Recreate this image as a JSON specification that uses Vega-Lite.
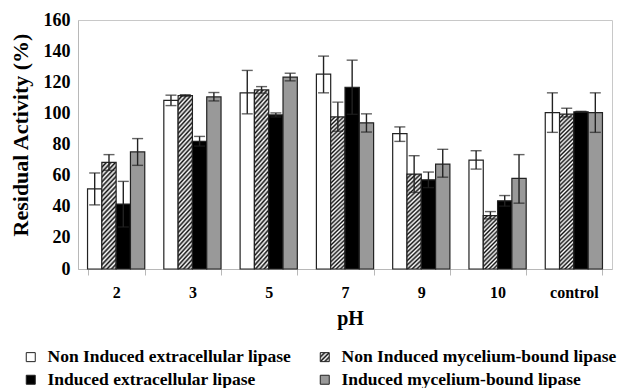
{
  "$schema": "https://vega.github.io/schema/vega-lite/v6.json",
  "width": 534,
  "height": 249,
  "autosize": {"type": "none"},
  "padding": {"left": 78, "top": 20, "right": 6, "bottom": 119},
  "background": "white",
  "config": {
    "view": {"stroke": "#c8c8c8", "strokeWidth": 1},
    "font": "Liberation Serif",
    "axis": {"labelFont": "Liberation Serif", "titleFont": "Liberation Serif", "labelFontWeight": "bold", "titleFontWeight": "bold", "labelColor": "#000000", "titleColor": "#000000", "grid": false},
    "axisY": {"labelOverlap": false},
    "legend": {"symbolStrokeColor": "#222222", "symbolStrokeWidth": 1, "symbolOpacity": 1}
  },
  "data": {
    "values": [
      {"ph": "2", "series": "Non Induced extracellular lipase", "value": 51.5, "lo": 41.2, "hi": 61.7},
      {"ph": "2", "series": "Non Induced mycelium-bound lipase", "value": 68.5, "lo": 63.4, "hi": 73.5},
      {"ph": "2", "series": "Induced extracellular lipase", "value": 41.7, "lo": 27, "hi": 56.3},
      {"ph": "2", "series": "Induced mycelium-bound lipase", "value": 75.2, "lo": 66.6, "hi": 83.8},
      {"ph": "3", "series": "Non Induced extracellular lipase", "value": 108.4, "lo": 105, "hi": 111.7},
      {"ph": "3", "series": "Non Induced mycelium-bound lipase", "value": 111.5, "lo": 111, "hi": 112},
      {"ph": "3", "series": "Induced extracellular lipase", "value": 82, "lo": 79, "hi": 85.2},
      {"ph": "3", "series": "Induced mycelium-bound lipase", "value": 110.6, "lo": 108, "hi": 113.4},
      {"ph": "5", "series": "Non Induced extracellular lipase", "value": 113.2, "lo": 99.7, "hi": 127.6},
      {"ph": "5", "series": "Non Induced mycelium-bound lipase", "value": 115.1, "lo": 113, "hi": 117.2},
      {"ph": "5", "series": "Induced extracellular lipase", "value": 99, "lo": 97.7, "hi": 100.3},
      {"ph": "5", "series": "Induced mycelium-bound lipase", "value": 123.3, "lo": 120.9, "hi": 125.8},
      {"ph": "7", "series": "Non Induced extracellular lipase", "value": 125.2, "lo": 113.2, "hi": 136.8},
      {"ph": "7", "series": "Non Induced mycelium-bound lipase", "value": 97.7, "lo": 88.5, "hi": 107.2},
      {"ph": "7", "series": "Induced extracellular lipase", "value": 116.8, "lo": 99.4, "hi": 134.2},
      {"ph": "7", "series": "Induced mycelium-bound lipase", "value": 93.9, "lo": 88, "hi": 99.7},
      {"ph": "9", "series": "Non Induced extracellular lipase", "value": 87, "lo": 82, "hi": 91.3},
      {"ph": "9", "series": "Non Induced mycelium-bound lipase", "value": 61, "lo": 49.2, "hi": 72.8},
      {"ph": "9", "series": "Induced extracellular lipase", "value": 57.3, "lo": 52.3, "hi": 62.3},
      {"ph": "9", "series": "Induced mycelium-bound lipase", "value": 67.4, "lo": 59, "hi": 76.9},
      {"ph": "10", "series": "Non Induced extracellular lipase", "value": 70, "lo": 64.2, "hi": 76},
      {"ph": "10", "series": "Non Induced mycelium-bound lipase", "value": 34.3, "lo": 32.2, "hi": 36.9},
      {"ph": "10", "series": "Induced extracellular lipase", "value": 43.8, "lo": 40.4, "hi": 47.2},
      {"ph": "10", "series": "Induced mycelium-bound lipase", "value": 58.2, "lo": 42.3, "hi": 73.5},
      {"ph": "control", "series": "Non Induced extracellular lipase", "value": 100.5, "lo": 87.8, "hi": 113.2},
      {"ph": "control", "series": "Non Induced mycelium-bound lipase", "value": 99.5, "lo": 97.7, "hi": 103.3},
      {"ph": "control", "series": "Induced extracellular lipase", "value": 101, "lo": 100.7, "hi": 101.3},
      {"ph": "control", "series": "Induced mycelium-bound lipase", "value": 100.5, "lo": 87.8, "hi": 113.2}
    ]
  },
  "encoding": {
    "x": {
      "field": "ph", "type": "nominal",
      "sort": ["2", "3", "5", "7", "9", "10", "control"],
      "scale": {"paddingInner": 0.25, "paddingOuter": 0.125},
      "axis": {
        "title": "pH", "labelAngle": 0, "labelFont": "Liberation Serif", "labelFontWeight": "bold", "labelFontSize": 16, "labelPadding": 9, "labelOverlap": false,
        "domainColor": "#b8b8b8", "tickColor": "#b8b8b8", "tickSize": 6, "tickBand": "extent",
        "titleFont": "Liberation Serif", "titleFontSize": 20, "titleX": 272, "titleY": 49, "titleAlign": "center", "titleBaseline": "middle"
      }
    },
    "xOffset": {
      "field": "series", "type": "nominal",
      "sort": ["Non Induced extracellular lipase", "Non Induced mycelium-bound lipase", "Induced extracellular lipase", "Induced mycelium-bound lipase"],
      "scale": {"paddingInner": 0, "paddingOuter": 0}
    }
  },
  "layer": [
    {
      "mark": {"type": "bar", "stroke": "#222222", "strokeWidth": 1.2},
      "encoding": {
        "y": {
          "field": "value", "type": "quantitative",
          "scale": {"domain": [0, 160], "nice": false},
          "axis": {
            "values": [0, 20, 40, 60, 80, 100, 120, 140, 160], "ticks": false, "labelOverlap": false,
            "domainColor": "#b8b8b8", "labelFont": "Liberation Serif", "labelFontWeight": "bold", "labelFontSize": 18, "labelPadding": 8,
            "title": "Residual Activity (%)", "titleFont": "Liberation Serif", "titleFontSize": 22, "titleAngle": -90,
            "titleX": -58, "titleY": 114.5, "titleAlign": "center", "titleBaseline": "middle"
          }
        },
        "fill": {
          "condition": [
            {"test": "datum.series === 'Non Induced mycelium-bound lipase' && datum.value < 50",
             "value": {"gradient": "linear", "x1": 0, "y1": 0, "x2": 0.32, "y2": 1.184, "stops": [
              {"offset": 0, "color": "#111111"}, {"offset": 0.03125, "color": "#ffffff"},
              {"offset": 0.0625, "color": "#111111"}, {"offset": 0.09375, "color": "#ffffff"},
              {"offset": 0.125, "color": "#111111"}, {"offset": 0.15625, "color": "#ffffff"},
              {"offset": 0.1875, "color": "#111111"}, {"offset": 0.21875, "color": "#ffffff"},
              {"offset": 0.25, "color": "#111111"}, {"offset": 0.28125, "color": "#ffffff"},
              {"offset": 0.3125, "color": "#111111"}, {"offset": 0.34375, "color": "#ffffff"},
              {"offset": 0.375, "color": "#111111"}, {"offset": 0.40625, "color": "#ffffff"},
              {"offset": 0.4375, "color": "#111111"}, {"offset": 0.46875, "color": "#ffffff"},
              {"offset": 0.5, "color": "#111111"}, {"offset": 0.53125, "color": "#ffffff"},
              {"offset": 0.5625, "color": "#111111"}, {"offset": 0.59375, "color": "#ffffff"},
              {"offset": 0.625, "color": "#111111"}, {"offset": 0.65625, "color": "#ffffff"},
              {"offset": 0.6875, "color": "#111111"}, {"offset": 0.71875, "color": "#ffffff"},
              {"offset": 0.75, "color": "#111111"}, {"offset": 0.78125, "color": "#ffffff"},
              {"offset": 0.8125, "color": "#111111"}, {"offset": 0.84375, "color": "#ffffff"},
              {"offset": 0.875, "color": "#111111"}, {"offset": 0.90625, "color": "#ffffff"},
              {"offset": 0.9375, "color": "#111111"}, {"offset": 0.96875, "color": "#ffffff"},
              {"offset": 1, "color": "#111111"}]}},
            {"test": "datum.series === 'Non Induced mycelium-bound lipase' && datum.value < 90",
             "value": {"gradient": "linear", "x1": 0, "y1": 0, "x2": 0.16, "y2": 1.12, "stops": [
              {"offset": 0, "color": "#111111"}, {"offset": 0.02, "color": "#ffffff"},
              {"offset": 0.04, "color": "#111111"}, {"offset": 0.06, "color": "#ffffff"},
              {"offset": 0.08, "color": "#111111"}, {"offset": 0.1, "color": "#ffffff"},
              {"offset": 0.12, "color": "#111111"}, {"offset": 0.14, "color": "#ffffff"},
              {"offset": 0.16, "color": "#111111"}, {"offset": 0.18, "color": "#ffffff"},
              {"offset": 0.2, "color": "#111111"}, {"offset": 0.22, "color": "#ffffff"},
              {"offset": 0.24, "color": "#111111"}, {"offset": 0.26, "color": "#ffffff"},
              {"offset": 0.28, "color": "#111111"}, {"offset": 0.3, "color": "#ffffff"},
              {"offset": 0.32, "color": "#111111"}, {"offset": 0.34, "color": "#ffffff"},
              {"offset": 0.36, "color": "#111111"}, {"offset": 0.38, "color": "#ffffff"},
              {"offset": 0.4, "color": "#111111"}, {"offset": 0.42, "color": "#ffffff"},
              {"offset": 0.44, "color": "#111111"}, {"offset": 0.46, "color": "#ffffff"},
              {"offset": 0.48, "color": "#111111"}, {"offset": 0.5, "color": "#ffffff"},
              {"offset": 0.52, "color": "#111111"}, {"offset": 0.54, "color": "#ffffff"},
              {"offset": 0.56, "color": "#111111"}, {"offset": 0.58, "color": "#ffffff"},
              {"offset": 0.6, "color": "#111111"}, {"offset": 0.62, "color": "#ffffff"},
              {"offset": 0.64, "color": "#111111"}, {"offset": 0.66, "color": "#ffffff"},
              {"offset": 0.68, "color": "#111111"}, {"offset": 0.7, "color": "#ffffff"},
              {"offset": 0.72, "color": "#111111"}, {"offset": 0.74, "color": "#ffffff"},
              {"offset": 0.76, "color": "#111111"}, {"offset": 0.78, "color": "#ffffff"},
              {"offset": 0.8, "color": "#111111"}, {"offset": 0.82, "color": "#ffffff"},
              {"offset": 0.84, "color": "#111111"}, {"offset": 0.86, "color": "#ffffff"},
              {"offset": 0.88, "color": "#111111"}, {"offset": 0.9, "color": "#ffffff"},
              {"offset": 0.92, "color": "#111111"}, {"offset": 0.94, "color": "#ffffff"},
              {"offset": 0.96, "color": "#111111"}, {"offset": 0.98, "color": "#ffffff"},
              {"offset": 1, "color": "#111111"}]}},
            {"test": "datum.series === 'Non Induced mycelium-bound lipase'",
             "value": {"gradient": "linear", "x1": 0, "y1": 0, "x2": 0.098, "y2": 1.08, "stops": [
              {"offset": 0, "color": "#111111"}, {"offset": 0.0125, "color": "#ffffff"},
              {"offset": 0.025, "color": "#111111"}, {"offset": 0.0375, "color": "#ffffff"},
              {"offset": 0.05, "color": "#111111"}, {"offset": 0.0625, "color": "#ffffff"},
              {"offset": 0.075, "color": "#111111"}, {"offset": 0.0875, "color": "#ffffff"},
              {"offset": 0.1, "color": "#111111"}, {"offset": 0.1125, "color": "#ffffff"},
              {"offset": 0.125, "color": "#111111"}, {"offset": 0.1375, "color": "#ffffff"},
              {"offset": 0.15, "color": "#111111"}, {"offset": 0.1625, "color": "#ffffff"},
              {"offset": 0.175, "color": "#111111"}, {"offset": 0.1875, "color": "#ffffff"},
              {"offset": 0.2, "color": "#111111"}, {"offset": 0.2125, "color": "#ffffff"},
              {"offset": 0.225, "color": "#111111"}, {"offset": 0.2375, "color": "#ffffff"},
              {"offset": 0.25, "color": "#111111"}, {"offset": 0.2625, "color": "#ffffff"},
              {"offset": 0.275, "color": "#111111"}, {"offset": 0.2875, "color": "#ffffff"},
              {"offset": 0.3, "color": "#111111"}, {"offset": 0.3125, "color": "#ffffff"},
              {"offset": 0.325, "color": "#111111"}, {"offset": 0.3375, "color": "#ffffff"},
              {"offset": 0.35, "color": "#111111"}, {"offset": 0.3625, "color": "#ffffff"},
              {"offset": 0.375, "color": "#111111"}, {"offset": 0.3875, "color": "#ffffff"},
              {"offset": 0.4, "color": "#111111"}, {"offset": 0.4125, "color": "#ffffff"},
              {"offset": 0.425, "color": "#111111"}, {"offset": 0.4375, "color": "#ffffff"},
              {"offset": 0.45, "color": "#111111"}, {"offset": 0.4625, "color": "#ffffff"},
              {"offset": 0.475, "color": "#111111"}, {"offset": 0.4875, "color": "#ffffff"},
              {"offset": 0.5, "color": "#111111"}, {"offset": 0.5125, "color": "#ffffff"},
              {"offset": 0.525, "color": "#111111"}, {"offset": 0.5375, "color": "#ffffff"},
              {"offset": 0.55, "color": "#111111"}, {"offset": 0.5625, "color": "#ffffff"},
              {"offset": 0.575, "color": "#111111"}, {"offset": 0.5875, "color": "#ffffff"},
              {"offset": 0.6, "color": "#111111"}, {"offset": 0.6125, "color": "#ffffff"},
              {"offset": 0.625, "color": "#111111"}, {"offset": 0.6375, "color": "#ffffff"},
              {"offset": 0.65, "color": "#111111"}, {"offset": 0.6625, "color": "#ffffff"},
              {"offset": 0.675, "color": "#111111"}, {"offset": 0.6875, "color": "#ffffff"},
              {"offset": 0.7, "color": "#111111"}, {"offset": 0.7125, "color": "#ffffff"},
              {"offset": 0.725, "color": "#111111"}, {"offset": 0.7375, "color": "#ffffff"},
              {"offset": 0.75, "color": "#111111"}, {"offset": 0.7625, "color": "#ffffff"},
              {"offset": 0.775, "color": "#111111"}, {"offset": 0.7875, "color": "#ffffff"},
              {"offset": 0.8, "color": "#111111"}, {"offset": 0.8125, "color": "#ffffff"},
              {"offset": 0.825, "color": "#111111"}, {"offset": 0.8375, "color": "#ffffff"},
              {"offset": 0.85, "color": "#111111"}, {"offset": 0.8625, "color": "#ffffff"},
              {"offset": 0.875, "color": "#111111"}, {"offset": 0.8875, "color": "#ffffff"},
              {"offset": 0.9, "color": "#111111"}, {"offset": 0.9125, "color": "#ffffff"},
              {"offset": 0.925, "color": "#111111"}, {"offset": 0.9375, "color": "#ffffff"},
              {"offset": 0.95, "color": "#111111"}, {"offset": 0.9625, "color": "#ffffff"},
              {"offset": 0.975, "color": "#111111"}, {"offset": 0.9875, "color": "#ffffff"},
              {"offset": 1, "color": "#111111"}]}}
          ],
          "field": "series", "type": "nominal",
          "scale": {
            "domain": ["Non Induced extracellular lipase", "Non Induced mycelium-bound lipase", "Induced extracellular lipase", "Induced mycelium-bound lipase"],
            "range": ["#ffffff",
              {"expr": "{gradient: 'linear', x1: 0, y1: 0, x2: 1, y2: 1, stops: [{offset: 0, color: '#111111'}, {offset: 0.125, color: '#ffffff'}, {offset: 0.25, color: '#111111'}, {offset: 0.375, color: '#ffffff'}, {offset: 0.5, color: '#111111'}, {offset: 0.625, color: '#ffffff'}, {offset: 0.75, color: '#111111'}, {offset: 0.875, color: '#ffffff'}, {offset: 1, color: '#111111'}]}"},
              "#000000", "#999999"]
          },
          "legend": {
            "orient": "none", "legendX": -56, "legendY": 328, "columns": 2, "direction": "horizontal",
            "title": null, "padding": 0, "symbolType": "square", "symbolSize": 81,
            "symbolStrokeColor": "#222222", "symbolStrokeWidth": 1, "symbolOpacity": 1,
            "labelFont": "Liberation Serif", "labelFontWeight": "bold", "labelFontSize": 17.5, "labelColor": "#000000",
            "labelOffset": 8, "labelLimit": 400, "rowPadding": 4, "columnPadding": 24
          }
        }
      }
    },
    {
      "mark": {"type": "rule", "color": "#222222", "strokeWidth": 1.4},
      "encoding": {
        "y": {
          "field": "lo", "type": "quantitative",
          "axis": {
            "values": [0, 20, 40, 60, 80, 100, 120, 140, 160], "ticks": false, "labelOverlap": false,
            "domainColor": "#b8b8b8", "labelFont": "Liberation Serif", "labelFontWeight": "bold", "labelFontSize": 18, "labelPadding": 8,
            "title": "Residual Activity (%)", "titleFont": "Liberation Serif", "titleFontSize": 22, "titleAngle": -90,
            "titleX": -58, "titleY": 114.5, "titleAlign": "center", "titleBaseline": "middle"
          }
        },
        "y2": {"field": "hi"}
      }
    },
    {
      "mark": {"type": "tick", "color": "#222222", "thickness": 1.4, "size": 11},
      "encoding": {
        "y": {
          "field": "lo", "type": "quantitative",
          "axis": {
            "values": [0, 20, 40, 60, 80, 100, 120, 140, 160], "ticks": false, "labelOverlap": false,
            "domainColor": "#b8b8b8", "labelFont": "Liberation Serif", "labelFontWeight": "bold", "labelFontSize": 18, "labelPadding": 8,
            "title": "Residual Activity (%)", "titleFont": "Liberation Serif", "titleFontSize": 22, "titleAngle": -90,
            "titleX": -58, "titleY": 114.5, "titleAlign": "center", "titleBaseline": "middle"
          }
        }
      }
    },
    {
      "mark": {"type": "tick", "color": "#222222", "thickness": 1.4, "size": 11},
      "encoding": {
        "y": {
          "field": "hi", "type": "quantitative",
          "axis": {
            "values": [0, 20, 40, 60, 80, 100, 120, 140, 160], "ticks": false, "labelOverlap": false,
            "domainColor": "#b8b8b8", "labelFont": "Liberation Serif", "labelFontWeight": "bold", "labelFontSize": 18, "labelPadding": 8,
            "title": "Residual Activity (%)", "titleFont": "Liberation Serif", "titleFontSize": 22, "titleAngle": -90,
            "titleX": -58, "titleY": 114.5, "titleAlign": "center", "titleBaseline": "middle"
          }
        }
      }
    }
  ]
}
